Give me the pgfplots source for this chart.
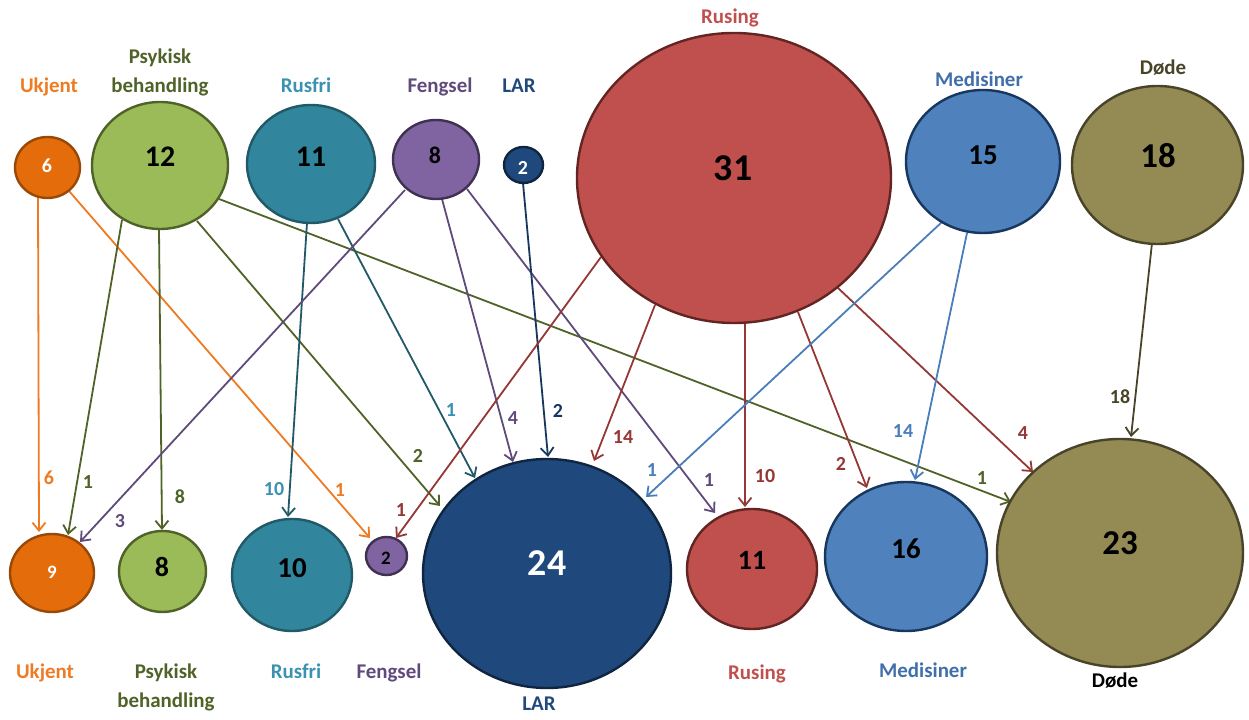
\documentclass[border=0pt]{standalone}
\usepackage{fontspec}
\setmainfont{Carlito}
\usepackage{pgfplots}
\pgfplotsset{compat=1.18}
\usetikzlibrary{arrows.meta}
% colours
\definecolor{ukF}{HTML}{E46C0A}\definecolor{ukB}{HTML}{984807}\definecolor{ukL}{HTML}{EE7A22}
\definecolor{psF}{HTML}{9BBB59}\definecolor{psB}{HTML}{4F6228}\definecolor{psL}{HTML}{4F6228}
\definecolor{ruF}{HTML}{31859C}\definecolor{ruB}{HTML}{215968}\definecolor{ruL}{HTML}{215968}\definecolor{ruT}{HTML}{3A92B0}
\definecolor{feF}{HTML}{8064A2}\definecolor{feB}{HTML}{3F3151}\definecolor{feL}{HTML}{604A7B}
\definecolor{laF}{HTML}{1F497D}\definecolor{laB}{HTML}{10253F}\definecolor{laL}{HTML}{17375E}\definecolor{laT}{HTML}{1F497D}
\definecolor{rsF}{HTML}{C0504D}\definecolor{rsB}{HTML}{632523}\definecolor{rsL}{HTML}{953735}\definecolor{rsT}{HTML}{C0504D}
\definecolor{meF}{HTML}{4F81BD}\definecolor{meB}{HTML}{17375E}\definecolor{meL}{HTML}{4A7EBB}\definecolor{meT}{HTML}{416FAA}
\definecolor{doF}{HTML}{948A54}\definecolor{doB}{HTML}{494429}\definecolor{doL}{HTML}{494429}
\newcommand\bub[6]{\addplot[only marks, mark=*, mark size=#3bp,
  mark options={yscale=#4/#3, fill=#5, draw=#6, line width=2.4bp}] coordinates {(#1,#2)};}
\newcommand\arr[5]{\addplot[#1, line width=1.8bp, -{Straight Barb[length=8bp,width=13bp]}] coordinates {(#2,#3) (#4,#5)};}
\tikzset{lab/.style={font=\bfseries\fontsize{21}{21}\selectfont, anchor=base, inner sep=0pt},
  num/.style={font=\bfseries\fontsize{#1}{#1}\selectfont, anchor=center, inner sep=0pt},
  al/.style={font=\bfseries\fontsize{20}{20}\selectfont, anchor=center, inner sep=0pt}}
\begin{document}
\begin{tikzpicture}
\begin{axis}[width=1249bp, height=720bp, scale only axis, xmin=0, xmax=1249, ymin=0, ymax=720,
  y dir=reverse, hide axis, clip=false, set layers]
\addplot[draw=none, forget plot] coordinates {(0,0) (1249,720)};
% arrows
\arr{ukL}{38}{198}{39}{532}
\arr{ukL}{69}{191}{370}{538}
\arr{psL}{122}{220}{68}{535}
\arr{psL}{159}{229}{162}{530}
\arr{psL}{197}{221}{440}{506}
\arr{psL}{219}{199}{1011}{502}
\arr{ruL}{307}{223}{288}{517}
\arr{ruL}{338}{219}{475}{478}
\arr{feL}{405}{190}{80}{542}
\arr{feL}{442}{199}{513}{462}
\arr{feL}{467}{189}{715}{513}
\arr{laL}{523}{183}{548}{457}
\arr{rsL}{601}{257}{396}{538}
\arr{rsL}{655}{305}{594}{461}
\arr{rsL}{745}{323}{745}{507}
\arr{rsL}{798}{312}{867}{488}
\arr{rsL}{838}{288}{1033}{472}
\arr{meL}{942}{222}{646}{497}
\arr{meL}{967}{233}{915}{480}
\arr{doL}{1152}{243}{1131}{437}
% bubbles top
\bub{47.5}{167.5}{32.5}{30.5}{ukF}{ukB}
\bub{160}{165.5}{68}{63.5}{psF}{psB}
\bub{311}{164}{64}{59}{ruF}{ruB}
\bub{436}{159.5}{43}{39.5}{feF}{feB}
\bub{523.5}{165}{19.5}{18}{laF}{laB}
\bub{734}{178}{157}{145}{rsF}{rsB}
\bub{983}{161.5}{77}{71.5}{meF}{meB}
\bub{1157.5}{165}{85.5}{79}{doF}{doB}
% bubbles bottom
\bub{52}{573}{42}{39}{ukF}{ukB}
\bub{162.5}{571.5}{43.5}{40.5}{psF}{psB}
\bub{292}{575}{60}{56}{ruF}{ruB}
\bub{386.5}{556}{20.5}{19}{feF}{feB}
\bub{547}{573.5}{124}{114.5}{laF}{laB}
\bub{752}{569}{65}{60}{rsF}{rsB}
\bub{906}{556.5}{81}{74.5}{meF}{meB}
\bub{1120}{553}{123}{114}{doF}{doB}
\begin{pgfonlayer}{axis foreground}
% numbers in bubbles
\node[num=20, white] at (axis cs:47,166) {6};
\node[num=30] at (axis cs:160,157) {12};
\node[num=30] at (axis cs:311,157) {11};
\node[num=24] at (axis cs:435,155) {8};
\node[num=20, white] at (axis cs:523,168) {2};
\node[num=38] at (axis cs:733,168) {31};
\node[num=29] at (axis cs:983,155) {15};
\node[num=35] at (axis cs:1158,156) {18};
\node[num=19, white] at (axis cs:52,572) {9};
\node[num=28] at (axis cs:162,567) {8};
\node[num=29] at (axis cs:292,568) {10};
\node[num=19] at (axis cs:386,558) {2};
\node[num=38, white] at (axis cs:547,563) {24};
\node[num=28] at (axis cs:752,560) {11};
\node[num=29] at (axis cs:906,549) {16};
\node[num=35] at (axis cs:1120,543) {23};
% arrow labels
\node[al, ukL] at (axis cs:49,478) {6};
\node[al, ukL] at (axis cs:340,490) {1};
\node[al, psL] at (axis cs:88,482) {1};
\node[al, psL] at (axis cs:180,497) {8};
\node[al, psL] at (axis cs:418,456) {2};
\node[al, psL] at (axis cs:982,478) {1};
\node[al, ruT] at (axis cs:274,489) {10};
\node[al, ruT] at (axis cs:451,410) {1};
\node[al, feL] at (axis cs:120,521) {3};
\node[al, feL] at (axis cs:513,418) {4};
\node[al, feL] at (axis cs:709,480) {1};
\node[al, laL] at (axis cs:558,411) {2};
\node[al, rsL] at (axis cs:401,510) {1};
\node[al, rsL] at (axis cs:623,437) {14};
\node[al, rsL] at (axis cs:765,476) {10};
\node[al, rsL] at (axis cs:841,464) {2};
\node[al, rsL] at (axis cs:1023,433) {4};
\node[al, meL] at (axis cs:652,470) {1};
\node[al, meL] at (axis cs:903,431) {14};
\node[al, doL] at (axis cs:1120,397) {18};
% category labels top
\node[lab, ukL] at (axis cs:49,93) {Ukjent};
\node[lab, psL] at (axis cs:160,64) {Psykisk};
\node[lab, psL] at (axis cs:160,93) {behandling};
\node[lab, ruT] at (axis cs:306,93) {Rusfri};
\node[lab, feL] at (axis cs:440,93) {Fengsel};
\node[lab, laT] at (axis cs:519,93) {LAR};
\node[lab, rsT] at (axis cs:730,24) {Rusing};
\node[lab, meT] at (axis cs:979,87) {Medisiner};
\node[lab, doL] at (axis cs:1163,75) {Døde};
% category labels bottom
\node[lab, ukL] at (axis cs:45,679) {Ukjent};
\node[lab, psL] at (axis cs:166,679) {Psykisk};
\node[lab, psL] at (axis cs:166,708) {behandling};
\node[lab, ruT] at (axis cs:296,679) {Rusfri};
\node[lab, feL] at (axis cs:389,679) {Fengsel};
\node[lab, laT] at (axis cs:539,711) {LAR};
\node[lab, rsT] at (axis cs:757,680) {Rusing};
\node[lab, meT] at (axis cs:923,678) {Medisiner};
\node[lab, black] at (axis cs:1115,688) {Døde};
\end{pgfonlayer}
\end{axis}
\end{tikzpicture}
\end{document}
